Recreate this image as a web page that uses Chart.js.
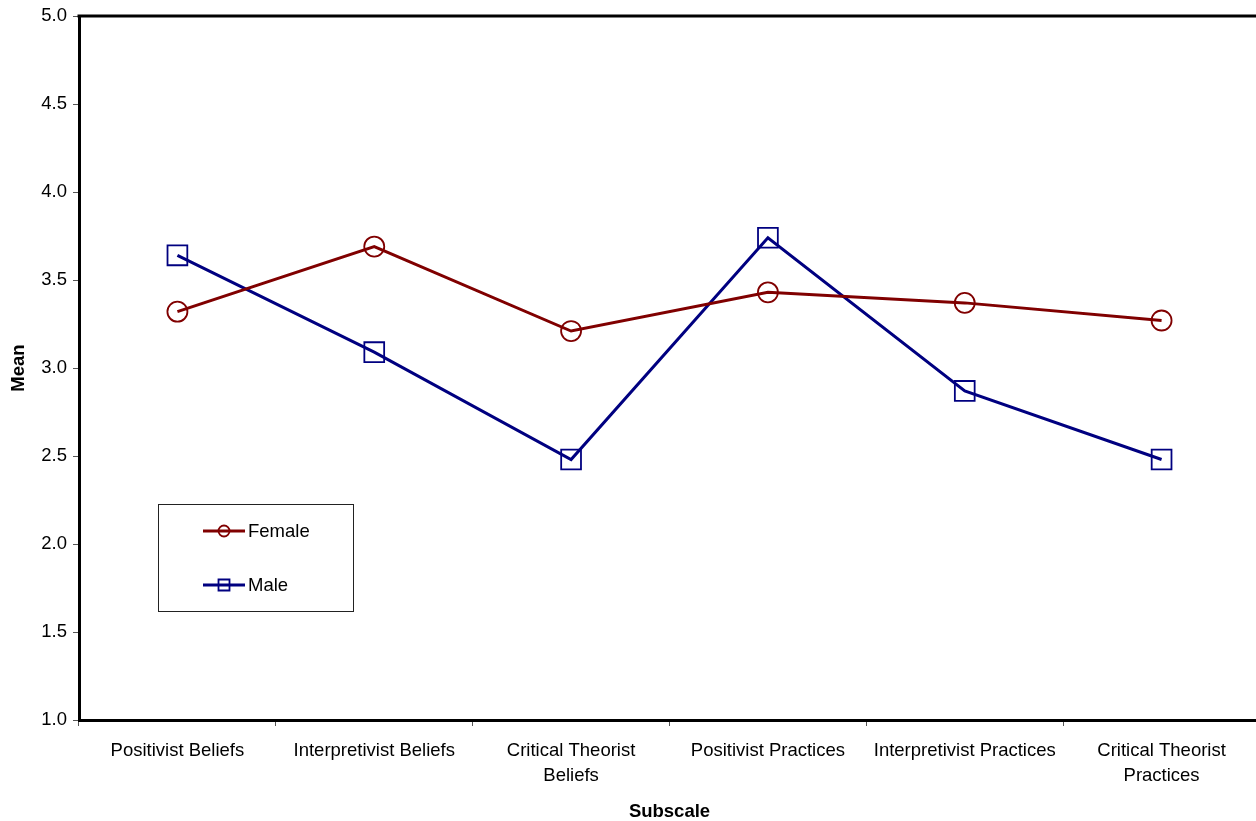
<!DOCTYPE html>
<html>
<head>
<meta charset="utf-8">
<script src="https://cdn.jsdelivr.net/npm/chart.js@4.4.1/dist/chart.umd.min.js"></script>
<style>
  html, body { margin:0; padding:0; background:#fff; overflow:hidden; }
  #wrap { width:1260px; height:821px; }
</style>
</head>
<body>
<div id="wrap"><canvas id="chart" width="1260" height="821"></canvas></div>
<script>
// data
const subscales = [
  'Positivist Beliefs',
  'Interpretivist Beliefs',
  ['Critical Theorist', 'Beliefs'],
  'Positivist Practices',
  'Interpretivist Practices',
  ['Critical Theorist', 'Practices']
];
const femaleMeans = [3.32, 3.69, 3.21, 3.43, 3.37, 3.27];
const maleMeans   = [3.64, 3.09, 2.48, 3.74, 2.87, 2.48];
const yTicks = [1.0, 1.5, 2.0, 2.5, 3.0, 3.5, 4.0, 4.5, 5.0];

const FONT = '"Liberation Sans", Arial, sans-serif';
const RED = '#800000', BLUE = '#000080';

// top border of plot + legend box inside the plot
const framePlugin = {
  id: 'frame',
  afterDraw(chart) {
    const { ctx, chartArea: a } = chart;
    ctx.save();
    ctx.strokeStyle = '#000';
    ctx.lineWidth = 3;
    ctx.beginPath();
    ctx.moveTo(a.left - 1.5, a.top);
    ctx.lineTo(a.right, a.top);
    ctx.stroke();

    // legend
    ctx.lineWidth = 1;
    ctx.strokeStyle = '#222';
    ctx.strokeRect(158.5, 504.5, 195, 107);
    const items = [
      { label: 'Female', color: RED, style: 'circle', y: 531 },
      { label: 'Male', color: BLUE, style: 'rect', y: 585 }
    ];
    ctx.font = '18.5px ' + FONT;
    ctx.textBaseline = 'middle';
    items.forEach(it => {
      ctx.strokeStyle = it.color;
      ctx.lineWidth = 3;
      ctx.beginPath();
      ctx.moveTo(203, it.y);
      ctx.lineTo(245, it.y);
      ctx.stroke();
      ctx.lineWidth = 1.8;
      ctx.beginPath();
      if (it.style === 'circle') ctx.arc(224, it.y, 5.5, 0, Math.PI * 2);
      else ctx.rect(218.5, it.y - 5.5, 11, 11);
      ctx.stroke();
      ctx.fillStyle = '#000';
      ctx.fillText(it.label, 248, it.y + 1);
    });
    ctx.restore();
  }
};

new Chart(document.getElementById('chart'), {
  type: 'line',
  data: {
    labels: subscales,
    datasets: [
      {
        label: 'Female', data: femaleMeans,
        borderColor: RED, borderWidth: 3, tension: 0,
        pointStyle: 'circle', pointRadius: 10,
        pointBorderColor: RED, pointBackgroundColor: 'rgba(255,255,255,0)', pointBorderWidth: 1.8
      },
      {
        label: 'Male', data: maleMeans,
        borderColor: BLUE, borderWidth: 3, tension: 0,
        pointStyle: 'rect', pointRadius: 14,
        pointBorderColor: BLUE, pointBackgroundColor: 'rgba(255,255,255,0)', pointBorderWidth: 1.8
      }
    ]
  },
  options: {
    responsive: false,
    animation: false,
    layout: { autoPadding: false, padding: { top: 16, right: 0, left: 0, bottom: 0 } },
    plugins: { legend: { display: false }, tooltip: { enabled: false } },
    scales: {
      x: {
        offset: true,
        grid: { display: true, offset: true, drawOnChartArea: false, tickLength: 6, color: '#555', lineWidth: 1 },
        border: { display: true, color: '#000', width: 3 },
        ticks: { color: '#000', font: { family: FONT, size: 18.5, lineHeight: 1.35 }, padding: 12, maxRotation: 0, autoSkip: false },
        title: { display: true, text: 'Subscale', color: '#000', font: { family: FONT, size: 18.5, weight: 'bold' }, padding: { top: 4, bottom: -2 } },
        afterFit(s) { s.height = 101; s.paddingLeft = 0; s.paddingRight = 0; }
      },
      y: {
        min: 1, max: 5,
        afterBuildTicks(s) { s.ticks = yTicks.map(v => ({ value: v })); },
        grid: { display: true, drawOnChartArea: false, tickLength: 6, color: '#555', lineWidth: 1 },
        border: { display: true, color: '#000', width: 3 },
        ticks: { color: '#000', font: { family: FONT, size: 18.5 }, padding: 6, callback: v => Number(v).toFixed(1) },
        title: { display: true, text: 'Mean', color: '#000', font: { family: FONT, size: 18.5, weight: 'bold' }, padding: { top: 8, bottom: 4 } },
        afterFit(s) { s.width = 79; s.paddingTop = 0; s.paddingBottom = 0; }
      }
    }
  },
  plugins: [framePlugin]
});
</script>
</body>
</html>
